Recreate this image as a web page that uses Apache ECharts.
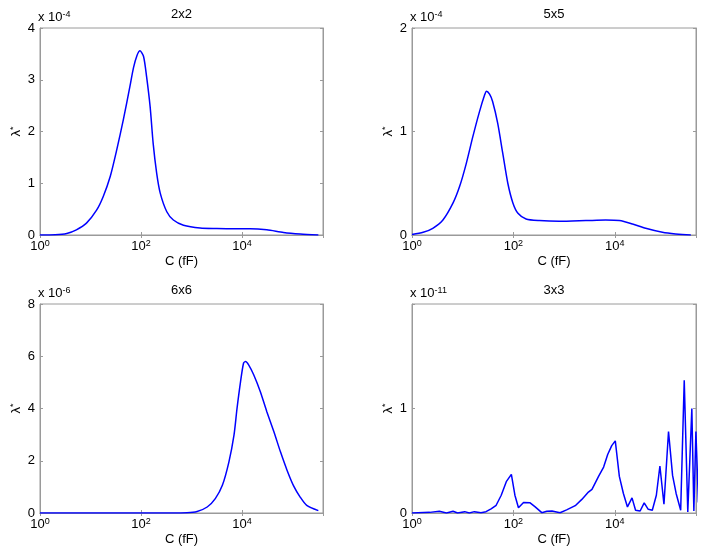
<!DOCTYPE html>
<html>
<head>
<meta charset="utf-8">
<title>lambda* vs C</title>
<script src="https://cdn.jsdelivr.net/npm/echarts@6/dist/echarts.min.js"></script>
<style>
  html, body { margin: 0; padding: 0; background: #fff; }
  #main { width: 706px; height: 555px; }
</style>
</head>
<body>
<div id="main"></div>
<script>
var exp2x2 = [0, 0.3, 0.53, 0.72, 0.92, 1.12, 1.25, 1.39, 1.52, 1.65, 1.78, 1.85, 1.92, 1.98, 2.05, 2.11, 2.18, 2.24, 2.31, 2.38, 2.51, 2.64, 2.84, 3.17, 3.5, 3.83, 4.16, 4.49, 4.82, 5.15, 5.51];
var lam2x2 = [0, 0.005, 0.03, 0.1, 0.23, 0.48, 0.74, 1.13, 1.65, 2.23, 2.87, 3.23, 3.47, 3.56, 3.45, 3.06, 2.48, 1.77, 1.19, 0.81, 0.45, 0.29, 0.19, 0.135, 0.125, 0.12, 0.12, 0.1, 0.05, 0.02, 0];

var exp5x5 = [0, 0.22, 0.41, 0.61, 0.81, 0.94, 1.07, 1.2, 1.33, 1.43, 1.47, 1.53, 1.59, 1.69, 1.79, 1.89, 1.99, 2.09, 2.25, 2.51, 2.9, 3.43, 3.82, 4.09, 4.35, 4.61, 4.94, 5.2, 5.5];
var lam5x5 = [0.005, 0.026, 0.065, 0.145, 0.31, 0.47, 0.69, 0.95, 1.19, 1.35, 1.39, 1.36, 1.29, 1.08, 0.79, 0.5, 0.31, 0.21, 0.155, 0.139, 0.132, 0.139, 0.145, 0.139, 0.106, 0.065, 0.026, 0.01, 0];

var exp6x6 = [0, 1, 2, 2.6, 2.91, 3.11, 3.31, 3.47, 3.61, 3.74, 3.84, 3.9, 3.97, 4.03, 4.07, 4.13, 4.23, 4.36, 4.49, 4.63, 4.76, 4.89, 5.02, 5.15, 5.28, 5.51];
var lam6x6 = [0, 0, 0, 0, 0.01, 0.06, 0.23, 0.55, 1.06, 1.96, 2.98, 4.0, 5.03, 5.74, 5.8, 5.67, 5.29, 4.65, 3.88, 3.11, 2.34, 1.64, 1.04, 0.61, 0.29, 0.09];

var exp3x3 = [0, 0.35, 0.54, 0.68, 0.81, 0.9, 1.04, 1.13, 1.23, 1.36, 1.46, 1.56, 1.66, 1.76, 1.86, 1.96, 2.03, 2.1, 2.2, 2.33, 2.43, 2.56, 2.66, 2.76, 2.92, 3.05, 3.22, 3.35, 3.48, 3.55, 3.68, 3.78, 3.86, 3.94, 4.01, 4.09, 4.17, 4.25, 4.34, 4.41, 4.5, 4.58, 4.66, 4.74, 4.82, 4.89, 4.97, 5.06, 5.14, 5.21, 5.3, 5.37, 5.44, 5.52, 5.56, 5.6, 5.65];
var lam3x3 = [0, 0.006, 0.016, 0, 0.016, 0, 0.013, 0, 0.013, 0.003, 0.013, 0.04, 0.074, 0.17, 0.3, 0.37, 0.17, 0.05, 0.1, 0.097, 0.058, 0.003, 0.016, 0.019, 0.003, 0.03, 0.07, 0.13, 0.2, 0.226, 0.35, 0.44, 0.56, 0.645, 0.69, 0.35, 0.187, 0.058, 0.145, 0.026, 0.019, 0.097, 0.035, 0.026, 0.17, 0.45, 0.084, 0.78, 0.36, 0.187, 0.026, 1.27, 0.01, 1.0, 0.02, 0.78, 0.1];

var panelTitles = ['2x2', '5x5', '6x6', '3x3'];
var multExps = ['-4', '-4', '-6', '-11'];
var yMax = [4, 2, 8, 2];
var yStep = [1, 1, 2, 1];
var yLabelMax = [4, 2, 8, 1];
var xMin = 1, xMax = 4e5;

var panelExps = [exp2x2, exp5x5, exp6x6, exp3x3];
var panelLams = [lam2x2, lam5x5, lam6x6, lam3x3];
// the 3x3 case is jagged in the original, the others are smooth curves
var panelSmooth = [0.25, 0.25, 0.25, false];

var grids = [
    { left: 40, top: 28, width: 283, height: 207 },
    { left: 412, top: 28, width: 284, height: 207 },
    { left: 40, top: 304, width: 283, height: 209 },
    { left: 412, top: 304, width: 284, height: 209 }
];

var font = 'Liberation Sans, Arial, Helvetica, sans-serif';
var frame = '#9a9a9a';

var rich = {
    b: { fontSize: 13, fontFamily: font, fontWeight: 'normal', color: '#000', lineHeight: 14, verticalAlign: 'bottom' },
    sup: { fontSize: 9, fontFamily: font, fontWeight: 'normal', color: '#000', lineHeight: 10, verticalAlign: 'top', padding: [0, 0, 6, 0] }
};

function xLabel(v) {
    var l = Math.log10(v);
    var e = Math.round(l);
    if (Math.abs(l - e) > 1e-6 || e % 2 !== 0 || e > 4) return '';
    return '{b|10}{sup|' + e + '}';
}

var option = {
    animation: false,
    backgroundColor: '#fff',
    textStyle: { fontFamily: font },
    title: [],
    grid: [],
    xAxis: [],
    yAxis: [],
    series: []
};

for (let i = 0; i < 4; i++) {
    let g = grids[i];
    option.grid.push({
        left: g.left, top: g.top, width: g.width, height: g.height,
        containLabel: false, outerBoundsMode: 'none',
        show: true, borderColor: frame, borderWidth: 1, backgroundColor: '#fff'
    });

    // "x 10^n" multiplier above the y axis
    option.title.push({
        text: '{b|x 10}{sup|' + multExps[i] + '}',
        left: g.left - 2, top: g.top - 18, padding: 0,
        textStyle: { fontWeight: 'normal', rich: rich }
    });

    let tick = { show: true, inside: true, length: 3, lineStyle: { color: frame } };
    let line = { show: true, lineStyle: { color: frame, width: 1 } };

    option.xAxis.push({
        type: 'log', logBase: 10, gridIndex: i, position: 'bottom',
        min: xMin, max: xMax, interval: 2,
        name: 'C (fF)', nameLocation: 'middle', nameGap: 18,
        nameTextStyle: { fontSize: 13, color: '#000', fontFamily: font },
        axisLine: line, axisTick: tick, minorTick: { show: false },
        splitLine: { show: false },
        axisLabel: { margin: 4, showMaxLabel: false, formatter: xLabel, rich: rich }
    });
    option.xAxis.push({
        type: 'log', logBase: 10, gridIndex: i, position: 'top',
        min: xMin, max: xMax, interval: 2,
        name: panelTitles[i], nameLocation: 'middle', nameGap: 7,
        nameTextStyle: { fontSize: 13, color: '#000', fontFamily: font },
        axisLine: line, axisTick: tick, splitLine: { show: false },
        axisLabel: { show: false }
    });

    option.yAxis.push({
        type: 'value', gridIndex: i, position: 'left',
        min: 0, max: yMax[i], interval: yStep[i],
        name: '{b|λ}{sup|*}', nameLocation: 'middle', nameGap: 16, nameRotate: 90,
        nameTextStyle: { rich: rich },
        axisLine: line, axisTick: tick, splitLine: { show: false },
        axisLabel: {
            margin: 5, fontSize: 13, color: '#000', fontFamily: font,
            formatter: (function (lim) {
                return function (v) { return v > lim ? '' : String(v); };
            })(yLabelMax[i])
        }
    });
    option.yAxis.push({
        type: 'value', gridIndex: i, position: 'right',
        min: 0, max: yMax[i], interval: yStep[i],
        axisLine: line, axisTick: tick, splitLine: { show: false },
        axisLabel: { show: false }
    });

    let pts = [];
    for (let k = 0; k < panelExps[i].length; k++) {
        pts.push([Math.pow(10, panelExps[i][k]), panelLams[i][k]]);
    }
    option.series.push({
        type: 'line',
        xAxisIndex: i * 2,
        yAxisIndex: i * 2,
        data: pts,
        showSymbol: false,
        smooth: panelSmooth[i],
        clip: true,
        lineStyle: { color: '#0000ff', width: 1.5 }
    });
}

var myChart = echarts.init(document.getElementById('main'), null, { renderer: 'canvas' });
option && myChart.setOption(option);
</script>
</body>
</html>
